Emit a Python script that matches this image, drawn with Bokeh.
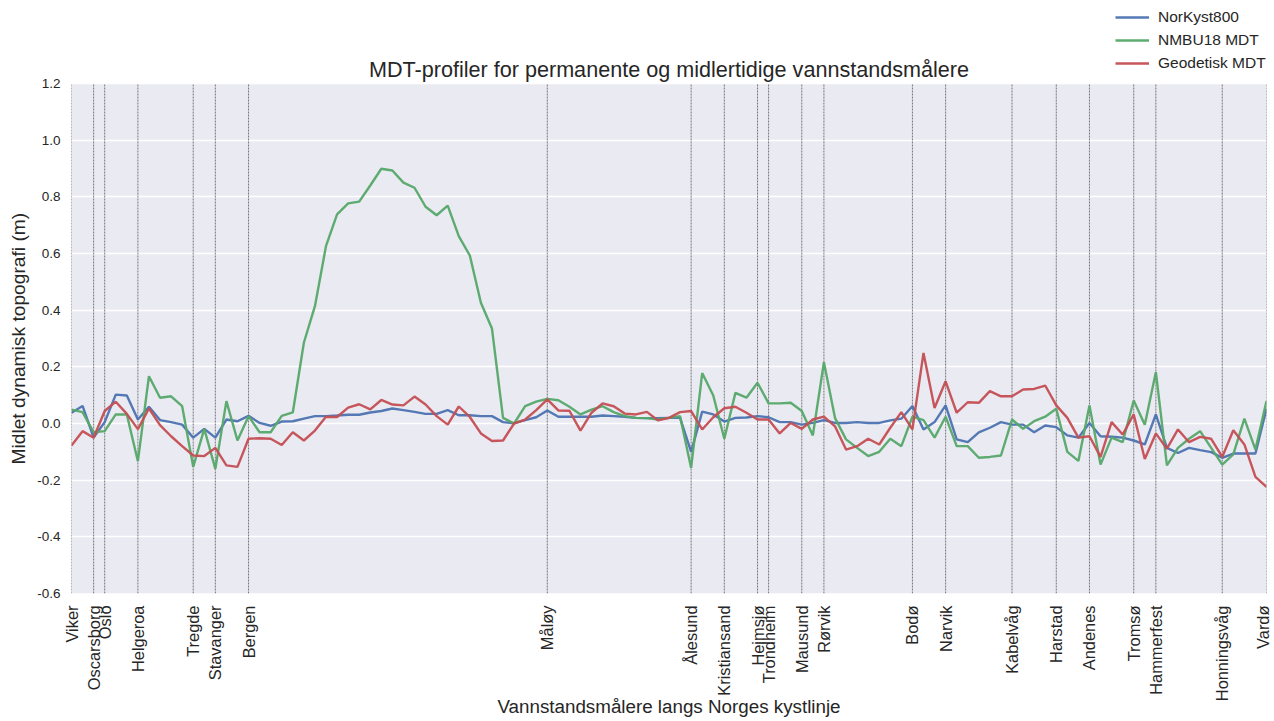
import math
from bokeh.plotting import figure
from bokeh.models import Legend, LegendItem, FixedTicker, Range1d, Label, Title
from bokeh.embed import file_html
from bokeh.resources import INLINE

stations = ["Viker", "Oscarsborg", "Oslo", "Helgeroa", "Tregde", "Stavanger", "Bergen",
            "Måløy", "Ålesund", "Kristiansand", "Heimsjø", "Trondheim", "Mausund", "Rørvik",
            "Bodø", "Narvik", "Kabelvåg", "Harstad", "Andenes", "Tromsø", "Hammerfest",
            "Honningsvåg", "Vardø"]
station_idx = [0, 2, 3, 6, 11, 13, 16, 43, 56, 59, 62, 63, 66, 68, 76, 79, 85, 89, 92, 96, 98, 104, 108]

norkyst800 = [
    0.038, 0.062, -0.05, 0.005, 0.102, 0.099, 0.014, 0.059, 0.012, 0.005,
    -0.004, -0.05, -0.019, -0.05, 0.014, 0.008, 0.027, 0.002, -0.008, 0.007,
    0.008, 0.017, 0.026, 0.026, 0.028, 0.031, 0.031, 0.039, 0.044, 0.053,
    0.047, 0.041, 0.034, 0.034, 0.047, 0.029, 0.029, 0.026, 0.026, 0.005,
    0.001, 0.012, 0.022, 0.046, 0.024, 0.024, 0.024, 0.024, 0.028, 0.026,
    0.024, 0.02, 0.019, 0.019, 0.02, 0.02, -0.1, 0.042, 0.032, 0.007,
    0.02, 0.021, 0.026, 0.022, 0.005, 0.005, -0.004, 0.002, 0.012, 0.002,
    0.002, 0.005, 0.002, 0.002, 0.011, 0.017, 0.062, -0.021, 0.005, 0.064,
    -0.056, -0.066, -0.031, -0.015, 0.005, -0.004, -0.004, -0.031, -0.007, -0.013,
    -0.042, -0.05, 0.002, -0.045, -0.047, -0.05, -0.06, -0.074, 0.032, -0.086,
    -0.104, -0.086, -0.094, -0.101, -0.121, -0.106, -0.106, -0.106, 0.052]

nmbu18 = [
    0.049, 0.04, -0.031, -0.027, 0.032, 0.032, -0.133, 0.167, 0.091, 0.096,
    0.061, -0.153, -0.019, -0.16, 0.079, -0.06, 0.026, -0.031, -0.031, 0.027,
    0.039, 0.285, 0.414, 0.626, 0.738, 0.777, 0.783, 0.84, 0.899, 0.893,
    0.85, 0.832, 0.765, 0.735, 0.769, 0.661, 0.593, 0.426, 0.335, 0.02,
    0.0, 0.061, 0.077, 0.087, 0.082, 0.059, 0.032, 0.049, 0.061, 0.04,
    0.026, 0.02, 0.019, 0.014, 0.02, 0.026, -0.157, 0.178, 0.099, -0.054,
    0.108, 0.091, 0.144, 0.071, 0.071, 0.073, 0.044, -0.042, 0.216, 0.02,
    -0.056, -0.086, -0.115, -0.1, -0.054, -0.08, 0.024, 0.012, -0.05, 0.024,
    -0.08, -0.08, -0.121, -0.118, -0.113, 0.014, -0.019, 0.008, 0.024, 0.052,
    -0.1, -0.132, 0.064, -0.145, -0.05, -0.066, 0.081, -0.004, 0.181, -0.148,
    -0.086, -0.054, -0.027, -0.086, -0.145, -0.109, 0.017, -0.092, 0.079]

geodetisk = [
    -0.078, -0.027, -0.05, 0.044, 0.077, 0.034, -0.02, 0.053, -0.006, -0.045,
    -0.08, -0.113, -0.115, -0.086, -0.148, -0.153, -0.054, -0.052, -0.054, -0.076,
    -0.031, -0.06, -0.025, 0.024, 0.023, 0.056, 0.068, 0.05, 0.083, 0.067,
    0.064, 0.095, 0.067, 0.026, -0.004, 0.06, 0.023, -0.035, -0.062, -0.06,
    0.0, 0.014, 0.047, 0.085, 0.046, 0.045, -0.025, 0.038, 0.071, 0.061,
    0.035, 0.032, 0.041, 0.011, 0.02, 0.04, 0.044, -0.021, 0.022, 0.054,
    0.059, 0.038, 0.014, 0.014, -0.035, 0.002, -0.019, 0.014, 0.024, -0.01,
    -0.092, -0.08, -0.054, -0.074, -0.015, 0.04, -0.021, 0.249, 0.055, 0.149,
    0.038, 0.075, 0.073, 0.114, 0.096, 0.096, 0.12, 0.122, 0.134, 0.064,
    0.02, -0.05, -0.045, -0.118, 0.005, -0.039, 0.032, -0.125, -0.035, -0.089,
    -0.021, -0.066, -0.047, -0.054, -0.118, -0.024, -0.074, -0.188, -0.224]

y_ticks = [-0.6, -0.4, -0.2, 0.0, 0.2, 0.4, 0.6, 0.8, 1.0, 1.2]
y_tick_labels = ["-0.6", "-0.4", "-0.2", "0.0", "0.2", "0.4", "0.6", "0.8", "1.0", "1.2"]

title_text = "MDT-profiler for permanente og midlertidige vannstandsmålere"
y_label = "Midlet dynamisk topografi (m)"
x_label = "Vannstandsmålere langs Norges kystlinje"
series_names = ["NorKyst800", "NMBU18 MDT", "Geodetisk MDT"]
series_colors = ["#4C72B0", "#55A868", "#C44E52"]
series_data = [norkyst800, nmbu18, geodetisk]

x = list(range(len(norkyst800)))
FONT = "Liberation Sans"
TXT = "#262626"

# layout (pixels): the frame includes a 76 px header strip above the shaded box,
# where the title and the legend sit
FRAME_W, BOX_H, HEAD_H = 1195, 510, 76
y_top = y_ticks[-1] + HEAD_H * (y_ticks[-1] - y_ticks[0]) / BOX_H

p = figure(frame_width=FRAME_W, frame_height=BOX_H + HEAD_H, output_backend="svg",
           toolbar_location=None, title=None,
           x_range=Range1d(x[0], x[-1]), y_range=Range1d(y_ticks[0], y_top),
           min_border_left=71, min_border_right=5, min_border_top=7, min_border_bottom=0)

p.background_fill_color = "white"
p.border_fill_color = "white"
p.outline_line_color = None

# shaded axes background (seaborn darkgrid look)
p.quad(left=[x[0]], right=[x[-1]], bottom=[y_ticks[0]], top=[y_ticks[-1]],
       fill_color="#EAEAF2", line_color=None, level="image")

p.xgrid.grid_line_color = None
p.ygrid.grid_line_color = "white"
p.ygrid.grid_line_width = 1.6
p.ygrid.ticker = FixedTicker(ticks=y_ticks)

p.yaxis.ticker = FixedTicker(ticks=y_ticks)
p.yaxis.major_label_overrides = {t: l for t, l in zip(y_ticks, y_tick_labels)}
p.xaxis.ticker = FixedTicker(ticks=station_idx)
p.xaxis.major_label_overrides = {i: s for i, s in zip(station_idx, stations)}
p.xaxis.major_label_orientation = math.pi / 2

for ax in (p.xaxis, p.yaxis):
    ax.axis_line_color = None
    ax.major_tick_line_color = None
    ax.minor_tick_line_color = None
    ax.major_tick_out = 0
    ax.major_tick_in = 0
    ax.minor_tick_out = 0
    ax.minor_tick_in = 0
    ax.major_label_text_font = FONT
    ax.major_label_text_color = TXT
    ax.axis_label_text_font = FONT
    ax.axis_label_text_font_style = "normal"
    ax.axis_label_text_color = TXT
    ax.axis_label_text_font_size = "18.8px"

p.yaxis.major_label_text_font_size = "13.5px"
p.xaxis.major_label_text_font_size = "16.4px"
p.xaxis.axis_label = x_label
p.yaxis.major_label_standoff = 11
p.xaxis.major_label_standoff = 12
p.xaxis.axis_label_standoff = -8

# y-axis title, placed along the shaded box (starts 129 px above the box bottom)
ytitle = Title(text=y_label, align="left", offset=129, standoff=11,
               text_font=FONT, text_font_size="19.2px", text_font_style="normal",
               text_color=TXT)
p.add_layout(ytitle, "left")

# station markers
n = len(station_idx)
p.segment(x0=station_idx, y0=[y_ticks[0]] * n, x1=station_idx, y1=[y_ticks[-1]] * n,
          line_color="#444444", line_width=1, line_dash="2 1", line_alpha=0.7)

renderers = []
for data, c in zip(series_data, series_colors):
    renderers.append(p.line(x, data, line_color=c, line_width=2.4, line_alpha=0.95))

legend = Legend(items=[LegendItem(label=nm, renderers=[r]) for nm, r in zip(series_names, renderers)],
                location=(1044, BOX_H + 10), background_fill_alpha=0, border_line_color=None,
                padding=0, margin=0, spacing=3, glyph_width=34, glyph_height=20,
                label_standoff=9, label_text_font=FONT, label_text_font_size="15.5px",
                label_text_color=TXT)
p.add_layout(legend)

p.add_layout(Label(x=FRAME_W / 2, y=BOX_H + 14, x_units="screen", y_units="screen",
                   text=title_text, text_align="center", text_baseline="middle",
                   text_font=FONT, text_font_size="21.6px", text_color=TXT))

open("out.html", "w").write(file_html(p, INLINE))
